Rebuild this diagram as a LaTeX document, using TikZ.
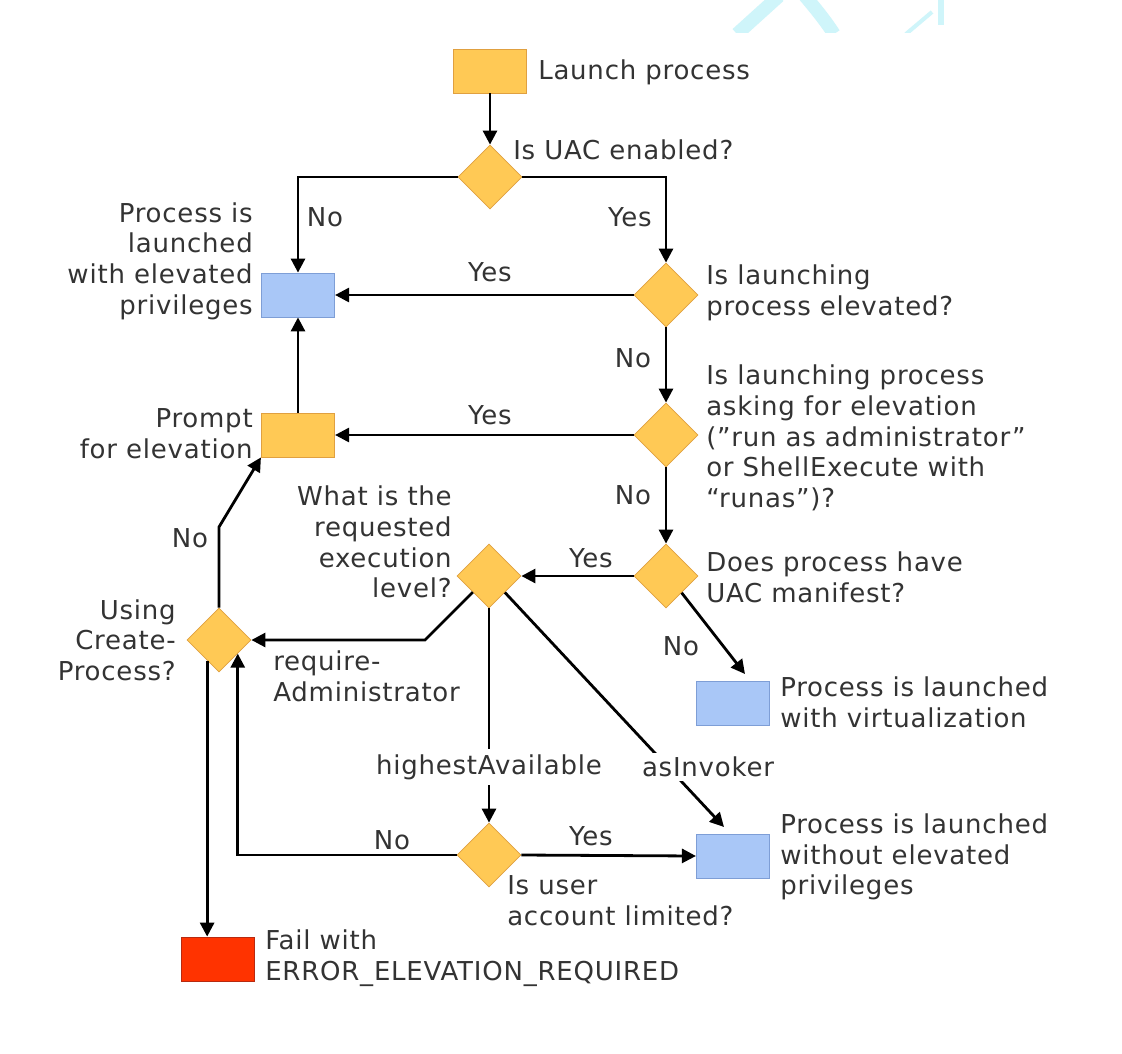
\documentclass[tikz,border=0pt]{standalone}
\usepackage{fontspec}
\setmainfont[LetterSpace=3]{DejaVu Sans}
\usetikzlibrary{shapes.geometric,arrows.meta}
\definecolor{orF}{HTML}{FFC955}
\definecolor{orD}{HTML}{E0A040}
\definecolor{blF}{HTML}{A9C7F7}
\definecolor{blD}{HTML}{7E9ED6}
\definecolor{rdF}{HTML}{FF3300}
\definecolor{rdD}{HTML}{B82A10}
\definecolor{txt}{HTML}{333333}
\definecolor{wm}{HTML}{CFF5FA}
\begin{document}
\begin{tikzpicture}[x=0.75pt,y=-0.75pt,
  font=\fontsize{19.5}{23}\selectfont, text=txt,
  dia/.style={diamond,aspect=1,minimum width=48pt,minimum height=48pt,inner sep=0pt,fill=orF,draw=orD,line width=0.6pt},
  obox/.style={rectangle,minimum width=55pt,minimum height=33pt,inner sep=0pt,fill=orF,draw=orD,line width=0.6pt},
  bbox/.style={rectangle,minimum width=55pt,minimum height=33pt,inner sep=0pt,fill=blF,draw=blD,line width=0.6pt},
  rbox/.style={rectangle,minimum width=55pt,minimum height=33pt,inner sep=0pt,fill=rdF,draw=rdD,line width=0.6pt},
  lbl/.style={inner sep=0pt},
  cut/.style={fill=white,inner sep=3pt},
  arr/.style={line width=2.1pt,-{Triangle[length=10.5pt,width=10.5pt]}},
]
\useasboundingbox[fill=white] (0,0) rectangle (1122,1054);
% faint watermark remnants at the top
\begin{scope}
\clip (700,0) rectangle (1000,32);
\draw[wm,line width=10pt] (737,34) -- (779,-4);
\draw[wm,line width=10pt] (805,-4) .. controls (815,8) and (825,20) .. (834,34);
\draw[wm,line width=3pt] (906,34) -- (932,12);
\draw[wm,line width=4pt] (941,-2) -- (941,25);
\end{scope}
% shapes
\node[obox] (launch) at (490,71) {};
\node[dia] (d1) at (490,177) {};
\node[bbox] (b1) at (298,295) {};
\node[dia] (d2) at (666,295) {};
\node[obox] (prompt) at (298,435) {};
\node[dia] (d3) at (666,435) {};
\node[dia] (d4) at (666,576) {};
\node[dia] (d5) at (489,576) {};
\node[bbox] (b3) at (733,703) {};
\node[dia] (d6) at (219,640) {};
\node[bbox] (b2) at (733,856) {};
\node[dia] (d7) at (489,855) {};
\node[rbox] (fail) at (218,959) {};
% texts
\node[lbl,anchor=west] (tlaunch) at (538,72) {Launch process};
\node[lbl,anchor=west] (td1) at (513,150) {Is UAC enabled?};
\node[lbl,anchor=east,align=right] (tb1) at (253,261) {Process is\\launched\\with elevated\\privileges};
\node[lbl,anchor=west,align=left] (td2) at (706,293) {Is launching\\process elevated?};
\node[lbl,anchor=east,align=right] (tprompt) at (253,434) {Prompt\\for elevation};
\node[lbl,anchor=west,align=left] (td3) at (706,438) {Is launching process\\asking for elevation\\(”run as administrator”\\or ShellExecute with\\“runas”)?};
\node[lbl,anchor=west,align=left] (td4) at (706,577) {Does process have\\UAC manifest?};
\node[lbl,anchor=east,align=right] (td5) at (452,542) {What is the\\requested\\execution\\level?};
\node[lbl,anchor=west,align=left] (tb3) at (780,702) {Process is launched\\with virtualization};
\node[lbl,anchor=east,align=right] (td6) at (176,640) {Using\\Create-\\Process?};
\node[lbl,anchor=west,align=left] (treq) at (273,676) {require-\\Administrator};
\node[lbl,anchor=west,align=left] (tb2) at (780,857) {Process is launched\\without elevated\\privileges};
\node[lbl,anchor=west,align=left] (td7) at (507,901) {Is user\\account limited?};
\node[lbl,anchor=west,align=left] (tfail) at (265,958) {Fail with\\ERROR\_ELEVATION\_REQUIRED};
% edge labels
\node[lbl] (e1) at (325,217) {No};
\node[lbl] (e2) at (630,217) {Yes};
\node[lbl] (e3) at (490,272) {Yes};
\node[lbl] (e4) at (633,358) {No};
\node[lbl] (e5) at (490,415) {Yes};
\node[lbl] (e6) at (633,495) {No};
\node[lbl] (e7) at (591,558) {Yes};
\node[lbl] (e8) at (681,646) {No};
\node[lbl] (e9) at (190,538) {No};
\node[lbl] (e10) at (591,836) {Yes};
\node[lbl] (e11) at (392,840) {No};
% connectors
\coordinate (b3in) at (745,674);
\coordinate (b2in) at (724,827);
\coordinate (k1) at (425,640);
\coordinate (k2) at (219,527);
\draw[arr] (launch.south) -- (d1.north);
\draw[arr] (d1.west) -| (b1.north);
\draw[arr] (d1.east) -| (d2.north);
\draw[arr] (d2.west) -- (b1.east);
\draw[arr] (d2.south) -- (d3.north);
\draw[arr] (d3.west) -- (prompt.east);
\draw[arr] (prompt.north) -- (b1.south);
\draw[arr] (d3.south) -- (d4.north);
\draw[arr] (d4.west) -- (d5.east);
\draw[arr] (d4.-47) -- (b3in);
\draw[arr] (d5.-135) -- (k1) -- (d6.east);
\draw[arr] (d6.north) -- (k2) -- (prompt.south west);
\draw[arr] (d6.-120) -- (d6.-120 |- fail.north);
\draw[arr] (d7.west) -| (d6.-36);
\draw[arr] (d7.east) -- (b2.west);
\draw[arr] (d5.south) -- (d7.north);
\draw[arr] (d5.-46) -- (b2in);
\node[cut,inner sep=4pt] (thA) at (489,767) {highestAvailable};
\node[cut] (taI) at (708,767) {asInvoker};
\end{tikzpicture}
\end{document}
